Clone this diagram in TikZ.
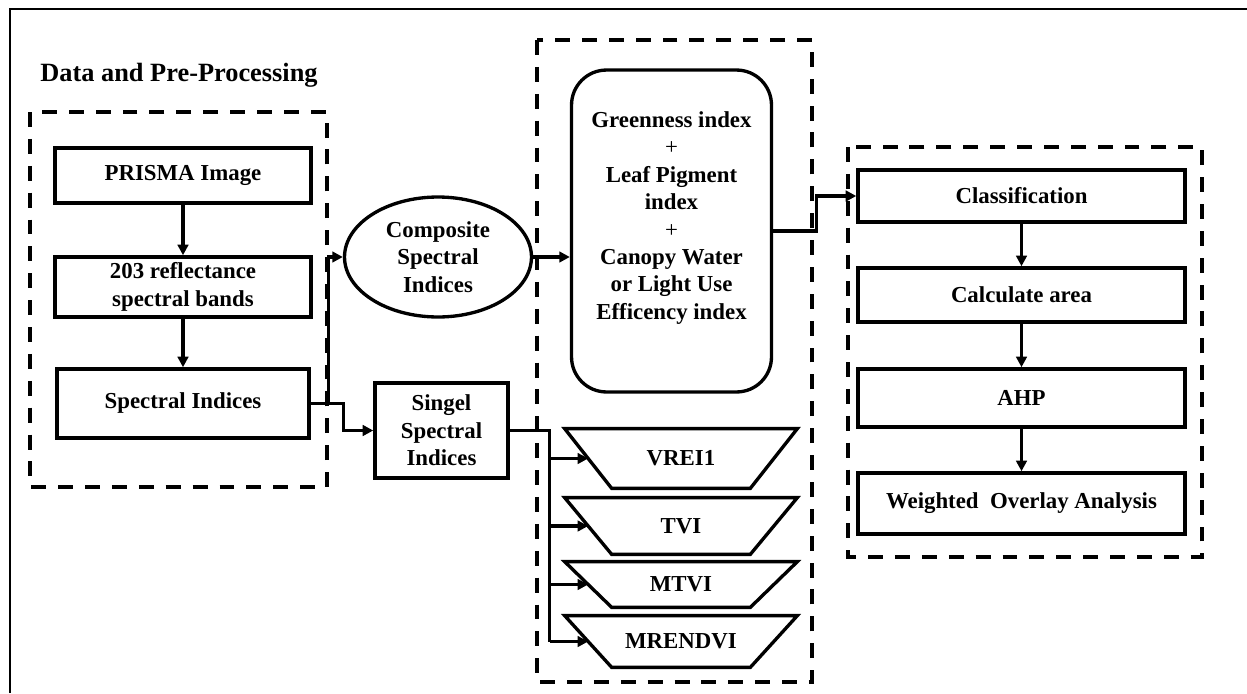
\documentclass[tikz,border=0pt]{standalone}
\usepackage{fontspec}
\setmainfont{Liberation Serif}
\usepackage{tikz}
\usetikzlibrary{arrows.meta,calc,shapes.geometric}

\begin{document}
\begin{tikzpicture}[x=0.02cm,y=-0.02cm,>={Triangle[length=6pt,width=6pt]},
	font=\bfseries\fontsize{13}{15.6}\selectfont]
	\path [use as bounding box] (0,0) rectangle (1247,693);
	\tikzstyle{proc} = [draw, line width=2pt, rectangle, align=center, inner sep=2pt]
	\tikzstyle{group} = [line width=1.9pt, dash pattern=on 8.5pt off 6.8pt]
	\tikzstyle{link} = [line width=1.8pt]
	\tikzstyle{idx} = [rectangle, minimum width=4.64cm, inner sep=1pt]
	% frame
	\draw[line width=1.5pt] (10,693) -- (10,9) -- (1247,9);
	% grouping boxes
	\draw[group] (30,112) rectangle (327,487);
	\draw[group] (537,40) rectangle (812,682);
	\draw[group] (848,147) rectangle (1202,557);
	\node[font=\bfseries\fontsize{15}{18}\selectfont] (title) at (179,75) {Data and Pre-Processing};
	% pre-processing chain
	\node[proc, minimum width=5.12cm, minimum height=1.1cm] (prisma) at (183,175.5) {PRISMA Image};
	\node[proc, minimum width=5.12cm, minimum height=1.2cm] (bands) at (183,287) {203 reflectance\\spectral bands};
	\node[proc, minimum width=5.04cm, minimum height=1.38cm] (spec) at (183,403.5) {Spectral Indices};
	\draw[->,link] (prisma) -- (bands);
	\draw[->,link] (bands) -- (spec);
	% composite branch
	\node[draw, ellipse, line width=1.9pt, align=center, inner sep=0pt,
		minimum width=3.74cm, minimum height=2.4cm] (comp) at (438,257) {Composite\\Spectral\\Indices};
	\node[draw, line width=1.9pt, rounded corners=0.7cm,
		minimum width=4cm, minimum height=6.44cm] (combo) at (671.5,231) {};
	\node[align=center] (combotext) at (671.5,218)
		{Greenness index\\\mdseries +\\Leaf Pigment\\index\\\mdseries +\\Canopy Water\\or Light Use\\Efficency index};
	\draw[->,link] (spec.east) -- ++(18,0) |- (comp.west);
	\draw[->,link] (comp.east) -- (comp.east -| combo.west);
	% single branch
	\node[proc, minimum width=2.66cm, minimum height=1.9cm] (singel) at (441.5,430.5) {Singel\\Spectral\\Indices};
	\draw[->,link] (spec.east) -- ++(33,0) |- (singel.west);
	\node[idx, minimum height=1.18cm] (vrei) at (681,458.5) {VREI1};
	\node[idx, minimum height=1.12cm] (tvi) at (681,526) {TVI};
	\node[idx, minimum height=0.9cm] (mtvi) at (681,584.5) {MTVI};
	\node[idx, minimum height=1.02cm] (mrendvi) at (681,641.5) {MRENDVI};
	\foreach \n in {vrei,tvi,mtvi,mrendvi}
		\draw[line width=1.9pt, line join=miter] (\n.north west) -- (\n.north east)
			-- ([xshift=-0.94cm]\n.south east) -- ([xshift=0.94cm]\n.south west) -- cycle;
	\coordinate (bus) at ($(singel.east)+(40,0)$);
	\draw[link] (singel.east) -- (bus) -- (bus |- mrendvi.west);
	\foreach \n in {vrei,tvi,mtvi,mrendvi}
		\draw[->,link] (bus |- \n.west) -- ([xshift=0.47cm]\n.west);
	% analysis chain
	\node[proc, minimum width=6.54cm, minimum height=1.04cm] (classif) at (1021.5,196) {Classification};
	\node[proc, minimum width=6.54cm, minimum height=1.08cm] (area) at (1021.5,295) {Calculate area};
	\node[proc, minimum width=6.54cm, minimum height=1.16cm] (ahp) at (1021.5,398) {AHP};
	\node[proc, minimum width=6.54cm, minimum height=1.22cm] (woa) at (1021.5,503.5) {Weighted~~Overlay Analysis};
	\draw[->,link] (combo.east) -- ++(43,0) |- (classif.west);
	\draw[->,link] (classif) -- (area);
	\draw[->,link] (area) -- (ahp);
	\draw[->,link] (ahp) -- (woa);
\end{tikzpicture}
\end{document}
